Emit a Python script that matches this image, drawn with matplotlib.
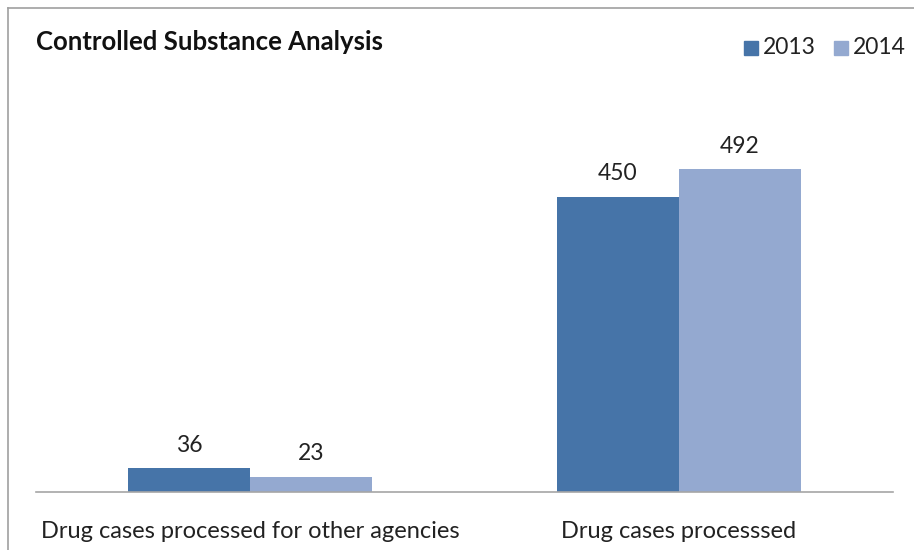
import matplotlib
matplotlib.use("Agg")
import matplotlib.pyplot as plt
import numpy as np
from matplotlib.lines import Line2D
from matplotlib.patches import Rectangle

categories = ["Drug cases processed for other agencies", "Drug cases processsed"]
series_names = ["2013", "2014"]
values_2013 = [36, 450]
values_2014 = [23, 492]
colors = ["#4674A8", "#94A9D0"]

plt.rcParams['font.family'] = ['Lato', 'DejaVu Sans']

W, H = 914, 550
fig = plt.figure(figsize=(W/100, H/100), dpi=100)

# axes: x from 36 to 893 px, y from 60 to 492 px (top-origin)
ax = fig.add_axes([36/W, 1-492/H, (893-36)/W, (492-60)/H])
x = np.arange(len(categories))
bw = 0.285
b1 = ax.bar(x - bw/2, values_2013, bw, color=colors[0], label=series_names[0])
b2 = ax.bar(x + bw/2, values_2014, bw, color=colors[1], label=series_names[1])
for bars in (b1, b2):
    for r in bars:
        ax.annotate(f"{int(r.get_height())}", (r.get_x()+r.get_width()/2, r.get_height()),
                    xytext=(0, 9), textcoords="offset points", ha="center", va="bottom",
                    fontsize=16.5, color="#222222")
ax.set_xlim(-0.5, 1.5)
ax.set_ylim(0, 432/0.6556)
ax.set_yticks([])
ax.set_xticks(x)
ax.set_xticklabels(categories, fontsize=17, color="#222222")
ax.tick_params(axis='x', length=0, pad=21)
for s in ["top", "right", "left"]:
    ax.spines[s].set_visible(False)
ax.spines["bottom"].set_color("#A6A6A6")
ax.spines["bottom"].set_linewidth(1.2)

# outer border (top and left visible)
fig.add_artist(Line2D([8/W, 8/W], [0, 1-8/H], transform=fig.transFigure, color="#A0A0A0", lw=1.2))
fig.add_artist(Line2D([8/W, 1], [1-8/H, 1-8/H], transform=fig.transFigure, color="#A0A0A0", lw=1.2))

fig.text(36/W, 1-42/H, "Controlled Substance Analysis", fontsize=18.5, fontweight="bold",
         va="center", ha="left", color="#111111")

# legend
for i, (name, c, sx) in enumerate(zip(series_names, colors, [744, 834])):
    fig.add_artist(Rectangle((sx/W, 1-55/H), 14/W, 14/H, transform=fig.transFigure, color=c))
    fig.text((sx+19)/W, 1-47/H, name, fontsize=16.5, va="center", ha="left", color="#222222")

fig.savefig("out.png", dpi=100)
